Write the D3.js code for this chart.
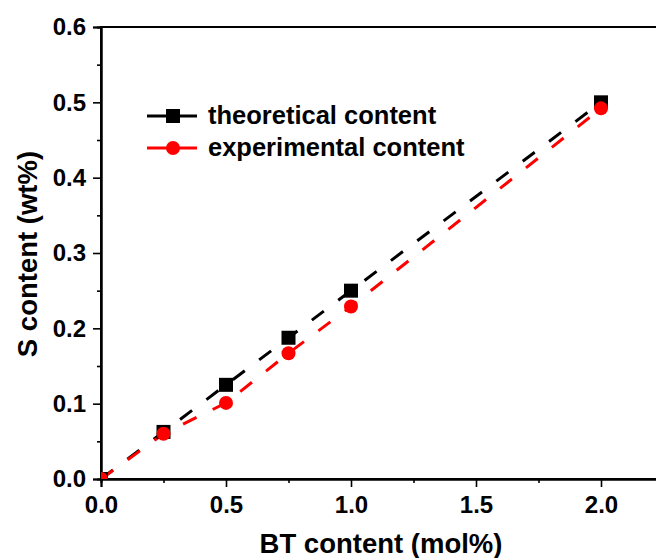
<!DOCTYPE html>
<html>
<head>
    <title>S content vs BT content</title>
    <script src="https://d3js.org/d3.v7.min.js"></script>
    <style>
        body { margin: 0; background: #fff; }
        text { font-family: "Liberation Sans", Arial, sans-serif; font-weight: bold; }
    </style>
</head>
<body>
    <div id="chart"></div>
    <script>
    // data
    let btContent = [0, 0.25, 0.5, 0.75, 1.0, 2.0];
    let theoretical = [0, 0.0625, 0.125, 0.1875, 0.25, 0.5];
    let experimental = [0, 0.060, 0.101, 0.167, 0.229, 0.492];
    let seriesNames = ["theoretical content", "experimental content"];
    let xTicks = [0, 0.5, 1.0, 1.5, 2.0];
    let yTicks = [0, 0.1, 0.2, 0.3, 0.4, 0.5, 0.6];

    let width = 656,
        height = 558;

    let margin = {left: 101, top: 27};
    let plotW = 562.5, plotH = 452;

    let svg = d3.select("#chart")
        .append("svg")
        .attr("width", width)
        .attr("height", height);

    let x = d3.scaleLinear().domain([0, 2.25]).range([margin.left, margin.left + plotW]);
    let y = d3.scaleLinear().domain([0, 0.6]).range([margin.top + plotH, margin.top]);

    // markers get clipped at the axes, like the original
    svg.append("clipPath").attr("id", "plotclip")
        .append("rect")
        .attr("x", x(0)).attr("y", y(0.6))
        .attr("width", plotW).attr("height", plotH);

    // frame (top line + the right side runs off the picture)
    svg.append("rect")
        .attr("x", x(0)).attr("y", y(0.6))
        .attr("width", plotW).attr("height", plotH)
        .attr("fill", "none").attr("stroke", "#000").attr("stroke-width", 2);

    // x axis
    svg.append("g")
        .attr("transform", `translate(0, ${y(0)})`)
        .call(d3.axisBottom(x).tickValues(xTicks).tickFormat(d3.format(".1f")).tickSize(8).tickPadding(9));
    svg.append("g")
        .attr("transform", `translate(0, ${y(0)})`)
        .call(d3.axisBottom(x).tickValues([0.25, 0.75, 1.25, 1.75]).tickFormat("").tickSize(4));

    // y axis
    svg.append("g")
        .attr("transform", `translate(${x(0)}, 0)`)
        .call(d3.axisLeft(y).tickValues(yTicks).tickFormat(d3.format(".1f")).tickSize(8).tickPadding(7));
    svg.append("g")
        .attr("transform", `translate(${x(0)}, 0)`)
        .call(d3.axisLeft(y).tickValues([0.05, 0.15, 0.25, 0.35, 0.45, 0.55]).tickFormat("").tickSize(4));

    svg.selectAll(".domain").attr("stroke-width", 2);
    svg.selectAll(".tick line").attr("stroke-width", 1.6);
    svg.selectAll(".tick text")
        .style("font-size", "24px")
        .style("font-family", "'Liberation Sans', Arial, sans-serif")
        .style("font-weight", "bold")
        .attr("fill", "#000");

    // axis titles
    svg.append("text")
        .attr("x", 381).attr("y", 553)
        .attr("text-anchor", "middle")
        .style("font-size", "27.5px")
        .text("BT content (mol%)");

    svg.append("text")
        .attr("transform", "translate(37, 254) rotate(-90)")
        .attr("text-anchor", "middle")
        .style("font-size", "27.5px")
        .text("S content (wt%)");

    // series
    let colors = ["#000000", "#ff0000"];
    let values = [theoretical, experimental];

    let line = d3.line()
        .x((d, i) => x(btContent[i]))
        .y(d => y(d));

    let plot = svg.append("g").attr("clip-path", "url(#plotclip)");

    values.forEach(function(vals, k) {
        plot.append("path")
            .datum(vals)
            .attr("d", line)
            .attr("fill", "none")
            .attr("stroke", colors[k])
            .attr("stroke-width", 3)
            .attr("stroke-dasharray", "15,18");
    });

    // markers: squares then circles
    plot.selectAll(".sq")
        .data(theoretical)
        .enter()
        .append("rect")
        .attr("class", "sq")
        .attr("x", (d, i) => x(btContent[i]) - 7)
        .attr("y", d => y(d) - 7)
        .attr("width", 14).attr("height", 14)
        .attr("fill", colors[0]);

    plot.selectAll(".dot")
        .data(experimental)
        .enter()
        .append("circle")
        .attr("class", "dot")
        .attr("cx", (d, i) => x(btContent[i]))
        .attr("cy", d => y(d))
        .attr("r", 7)
        .attr("fill", colors[1]);

    // legend
    let legendRows = [116, 148];
    seriesNames.forEach(function(name, k) {
        let g = svg.append("g").attr("transform", `translate(147, ${legendRows[k]})`);
        g.append("line")
            .attr("x1", 0).attr("x2", 50)
            .attr("stroke", colors[k]).attr("stroke-width", 3);
        if (k === 0) {
            g.append("rect").attr("x", 19).attr("y", -7).attr("width", 14).attr("height", 14).attr("fill", colors[k]);
        } else {
            g.append("circle").attr("cx", 26).attr("r", 7).attr("fill", colors[k]);
        }
        g.append("text")
            .attr("x", 61).attr("y", 8)
            .style("font-size", "25.5px")
            .text(name);
    });
    </script>
</body>
</html>
